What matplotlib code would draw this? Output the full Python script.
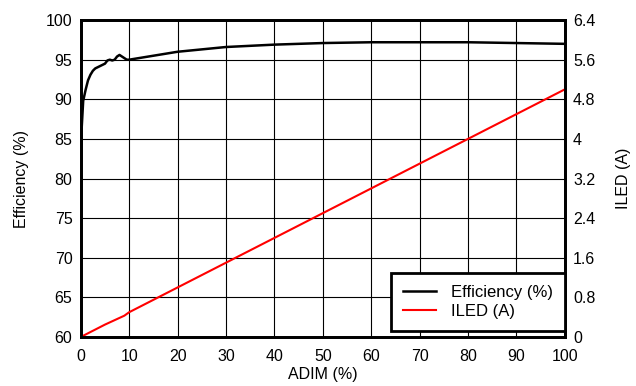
import numpy as np
from matplotlib import pyplot as plt

plt.rcParams['font.family'] = ['Liberation Sans', 'DejaVu Sans']

# efficiency vs analog dimming
adim_eff = [0, 0.2, 0.5, 1, 1.5, 2, 2.5, 3, 4, 5, 5.5, 6, 6.5, 7, 7.5, 8, 8.5, 9, 9.5, 10,
            15, 20, 30, 40, 50, 60, 70, 80, 90, 100]
efficiency = [80.5, 86.5, 89.8, 91.2, 92.4, 93.1, 93.6, 93.9, 94.2, 94.5, 94.9, 95.0, 94.9, 95.0, 95.4,
              95.6, 95.4, 95.2, 95.0, 95.0, 95.5, 96.0, 96.6, 96.9, 97.1, 97.2, 97.2, 97.2, 97.1, 97.0]

# LED current
adim_iled = [0, 5, 9, 10, 20, 40, 60, 80, 100]
iled = [0, 0.25, 0.43, 0.5, 1.0, 2.0, 3.0, 4.0, 5.0]

iled_ticks = [0, 0.8, 1.6, 2.4, 3.2, 4, 4.8, 5.6, 6.4]
iled_ticklabels = ['0', '0.8', '1.6', '2.4', '3.2', '4', '4.8', '5.6', '6.4']

FS = 11.5

fig = plt.figure(figsize=(6.36, 3.86), dpi=100)
ax = fig.add_axes([0.127, 0.127, 0.761, 0.821])
ax2 = ax.twinx()

l1, = ax.plot(adim_eff, efficiency, color='black', lw=1.8)
l2, = ax2.plot(adim_iled, iled, color='red', lw=1.5)

ax.set_xlim(0, 100)
ax.set_ylim(60, 100)
ax2.set_ylim(0, 6.4)
ax.set_xticks(np.arange(0, 101, 10))
ax.set_yticks(np.arange(60, 101, 5))
ax2.set_yticks(iled_ticks)
ax2.set_yticklabels(iled_ticklabels)
ax.grid(True, color='black', lw=0.8)
ax.tick_params(axis='x', length=0, labelsize=FS, pad=9)
ax.tick_params(axis='y', length=0, labelsize=FS, pad=6)
ax2.tick_params(length=0, labelsize=FS, pad=6)

ax.set_xlabel('ADIM (%)', fontsize=FS, labelpad=2)
ax.set_ylabel('Efficiency (%)', fontsize=FS, labelpad=12)
ax2.set_ylabel('ILED (A)', fontsize=FS, labelpad=15)

for a in (ax, ax2):
    for s in a.spines.values():
        s.set_linewidth(2)

leg = ax2.legend([l1, l2], ['Efficiency (%)', 'ILED (A)'], loc='lower right',
                 bbox_to_anchor=(1.0, 0.019), borderaxespad=0, fontsize=12,
                 fancybox=False, framealpha=1, edgecolor='black',
                 handlelength=2.0, handletextpad=0.9, labelspacing=0.25, borderpad=0.7)
leg.get_frame().set_linewidth(2)

fig.savefig('out.png', dpi=100)
